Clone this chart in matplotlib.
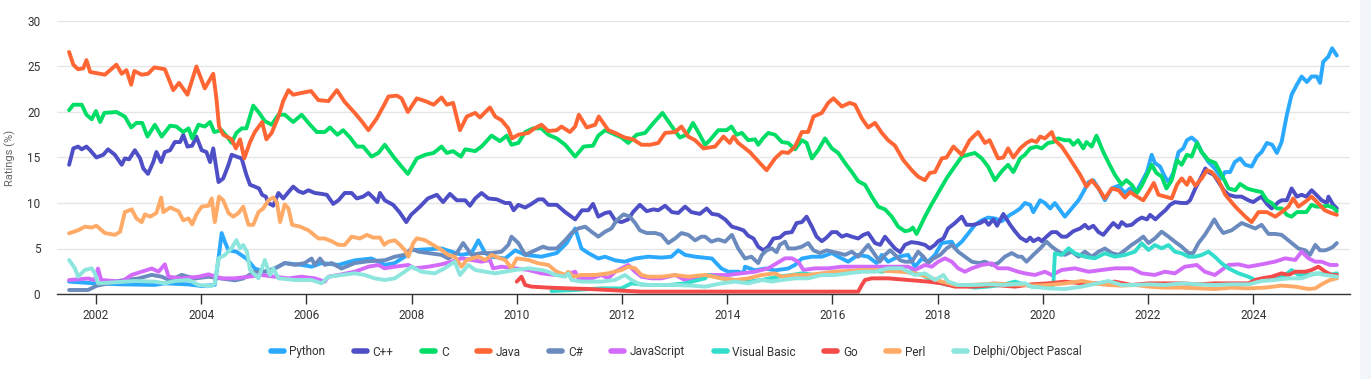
import matplotlib
matplotlib.use("Agg")
import matplotlib.pyplot as plt
from matplotlib.patches import Rectangle
from matplotlib.lines import Line2D

plt.rcParams['font.family'] = ['Roboto', 'DejaVu Sans']

# ---------------- data: (year, rating %) ----------------
python_pts = [(2001.49,1.36),(2001.98,1.17),(2002.49,1.06),(2003.12,1.0),(2003.31,1.17),(2003.75,1.06),(2004.01,0.88),(2004.26,1.0),(2004.33,3.9),(2004.39,6.7),(2004.45,5.75),(2004.52,4.8),(2004.67,4.65),(2004.86,3.9),(2005.02,2.8),(2005.21,2.45),(2005.40,2.8),(2005.59,3.4),(2005.91,3.2),(2006.10,3.0),(2006.29,3.4),(2006.61,3.2),(2006.92,3.7),(2007.24,3.9),(2007.49,3.2),(2007.68,3.4),(2007.87,4.1),(2007.99,4.8),(2008.25,4.9),(2008.57,5.0),(2008.76,4.65),(2008.95,4.3),(2009.14,4.5),(2009.27,5.9),(2009.40,4.5),(2009.52,4.1),(2009.78,3.9),(2009.97,4.8),(2010.16,4.3),(2010.47,4.1),(2010.76,4.5),(2010.95,5.6),(2011.11,7.2),(2011.17,6.1),(2011.23,5.0),(2011.36,4.5),(2011.55,3.9),(2011.68,4.1),(2011.87,3.7),(2012.05,3.55),(2012.25,3.9),(2012.50,4.1),(2012.75,4.0),(2012.94,4.1),(2013.07,4.8),(2013.20,4.3),(2013.39,4.1),(2013.71,3.9),(2013.89,2.8),(2014.02,2.45),(2014.21,2.45),(2014.31,2.3),(2014.34,3.0),(2014.53,2.6),(2014.72,2.8),(2014.91,2.6),(2015.16,2.8),(2015.29,3.2),(2015.42,3.9),(2015.61,4.1),(2015.80,4.1),(2015.99,4.5),(2016.11,4.1),(2016.30,3.55),(2016.49,4.3),(2016.68,4.1),(2016.84,3.4),(2016.94,4.3),(2017.06,3.55),(2017.25,4.1),(2017.44,4.3),(2017.57,3.0),(2017.70,3.9),(2017.82,3.55),(2017.95,4.3),(2018.08,5.6),(2018.27,5.75),(2018.33,5.1),(2018.46,5.75),(2018.59,6.7),(2018.71,7.6),(2018.84,8.1),(2018.96,8.4),(2019.09,8.3),(2019.22,8.0),(2019.38,8.7),(2019.47,9.0),(2019.57,9.4),(2019.66,10.0),(2019.76,9.8),(2019.82,9.0),(2019.95,10.3),(2020.04,10.0),(2020.14,9.4),(2020.23,10.0),(2020.33,9.2),(2020.42,8.5),(2020.55,9.4),(2020.68,10.3),(2020.77,11.2),(2020.87,12.3),(2020.96,12.5),(2021.06,11.6),(2021.18,10.3),(2021.31,11.6),(2021.44,11.9),(2021.56,11.1),(2021.66,11.6),(2021.75,10.9),(2021.88,12.3),(2021.98,13.4),(2022.07,15.3),(2022.13,14.4),(2022.23,14.0),(2022.32,12.9),(2022.39,12.3),(2022.48,13.3),(2022.58,15.6),(2022.67,16.0),(2022.74,16.9),(2022.83,17.2),(2022.93,16.7),(2023.02,15.6),(2023.15,14.5),(2023.27,13.8),(2023.40,12.7),(2023.46,13.4),(2023.56,13.4),(2023.65,14.5),(2023.75,14.9),(2023.85,14.2),(2023.97,14.0),(2024.07,15.1),(2024.16,15.6),(2024.26,16.6),(2024.36,16.4),(2024.45,15.5),(2024.54,16.7),(2024.64,19.7),(2024.73,21.9),(2024.83,23.0),(2024.92,23.9),(2025.02,23.3),(2025.11,23.9),(2025.21,23.9),(2025.27,23.2),(2025.33,25.5),(2025.43,26.1),(2025.50,27.0),(2025.59,26.2)]

cpp_pts = [(2001.49,14.2),(2001.57,16.0),(2001.66,16.2),(2001.73,15.9),(2001.82,16.2),(2001.89,15.8),(2002.01,15.0),(2002.14,15.3),(2002.23,15.9),(2002.36,15.3),(2002.49,14.2),(2002.55,14.9),(2002.63,14.8),(2002.74,15.8),(2002.84,14.9),(2002.90,13.8),(2002.99,13.2),(2003.09,14.5),(2003.15,15.6),(2003.24,14.5),(2003.31,15.6),(2003.41,15.8),(2003.50,16.7),(2003.60,16.7),(2003.66,17.5),(2003.74,16.2),(2003.83,16.3),(2003.91,17.3),(2004.01,15.8),(2004.10,15.6),(2004.17,14.5),(2004.23,16.0),(2004.33,12.3),(2004.42,12.7),(2004.52,14.2),(2004.58,15.3),(2004.67,15.1),(2004.77,14.9),(2004.86,13.1),(2004.93,12.0),(2005.02,11.8),(2005.10,11.6),(2005.16,10.9),(2005.23,10.7),(2005.28,10.0),(2005.37,9.7),(2005.47,11.1),(2005.56,10.5),(2005.66,11.2),(2005.75,11.8),(2005.85,11.3),(2005.94,11.1),(2006.04,11.4),(2006.16,11.1),(2006.29,11.0),(2006.39,10.9),(2006.51,9.9),(2006.61,10.3),(2006.73,11.1),(2006.86,11.1),(2006.96,10.5),(2007.08,10.7),(2007.18,11.1),(2007.27,10.6),(2007.35,10.1),(2007.40,11.1),(2007.49,10.3),(2007.65,9.8),(2007.77,9.0),(2007.90,7.9),(2007.99,8.7),(2008.16,9.6),(2008.31,10.5),(2008.48,10.9),(2008.60,10.1),(2008.73,11.0),(2008.86,10.3),(2009.02,10.3),(2009.11,9.7),(2009.21,10.5),(2009.33,11.1),(2009.46,10.5),(2009.62,10.4),(2009.78,10.0),(2009.87,10.0),(2009.94,9.2),(2010.03,9.8),(2010.16,9.5),(2010.28,9.9),(2010.41,10.4),(2010.50,10.4),(2010.60,9.8),(2010.76,9.8),(2010.92,9.0),(2011.11,8.2),(2011.24,9.2),(2011.36,9.2),(2011.45,9.9),(2011.55,8.5),(2011.68,8.9),(2011.77,9.0),(2011.87,8.1),(2011.99,7.9),(2012.12,8.2),(2012.21,9.0),(2012.34,9.8),(2012.47,9.1),(2012.60,9.3),(2012.69,9.2),(2012.82,9.7),(2012.95,9.0),(2013.07,8.9),(2013.20,9.6),(2013.32,9.0),(2013.48,8.8),(2013.61,9.4),(2013.71,8.8),(2013.83,8.7),(2013.96,8.2),(2014.09,7.4),(2014.21,7.2),(2014.31,7.0),(2014.40,6.4),(2014.50,6.1),(2014.59,5.2),(2014.69,4.8),(2014.78,5.2),(2014.88,6.1),(2015.00,6.2),(2015.10,6.7),(2015.23,6.8),(2015.32,7.8),(2015.42,7.9),(2015.51,8.5),(2015.61,7.4),(2015.70,6.3),(2015.80,5.8),(2015.89,6.2),(2015.99,6.8),(2016.08,6.8),(2016.18,6.3),(2016.27,6.5),(2016.37,6.3),(2016.49,6.1),(2016.59,6.5),(2016.68,6.7),(2016.81,5.6),(2016.91,5.4),(2017.00,6.3),(2017.10,5.6),(2017.19,5.0),(2017.29,4.6),(2017.38,5.4),(2017.50,5.7),(2017.63,5.6),(2017.76,5.4),(2017.85,5.0),(2017.95,5.4),(2018.01,5.8),(2018.11,6.1),(2018.20,7.2),(2018.33,7.8),(2018.46,8.5),(2018.55,7.6),(2018.68,7.6),(2018.81,7.8),(2018.90,8.1),(2018.97,7.6),(2019.06,8.2),(2019.13,7.5),(2019.25,8.8),(2019.38,7.6),(2019.47,6.9),(2019.57,6.2),(2019.69,5.8),(2019.76,6.2),(2019.82,5.8),(2019.92,6.1),(2019.98,5.8),(2020.07,6.3),(2020.17,6.8),(2020.26,6.8),(2020.36,6.3),(2020.45,6.3),(2020.58,6.9),(2020.71,7.2),(2020.80,7.6),(2020.87,7.2),(2020.96,7.5),(2021.06,6.8),(2021.15,6.5),(2021.25,7.2),(2021.34,7.8),(2021.44,7.3),(2021.50,7.9),(2021.59,7.5),(2021.69,7.6),(2021.79,8.1),(2021.88,8.4),(2021.98,8.2),(2022.04,8.7),(2022.14,8.2),(2022.23,8.7),(2022.33,9.2),(2022.42,9.8),(2022.51,10.1),(2022.64,10.0),(2022.74,10.0),(2022.80,10.3),(2022.90,11.6),(2023.00,12.7),(2023.09,13.8),(2023.15,13.4),(2023.25,13.1),(2023.34,12.3),(2023.44,11.4),(2023.53,10.9),(2023.66,10.7),(2023.78,10.7),(2023.91,10.3),(2024.00,10.1),(2024.10,10.5),(2024.16,10.7),(2024.26,9.9),(2024.35,9.4),(2024.48,10.1),(2024.54,10.3),(2024.64,10.3),(2024.73,11.6),(2024.83,10.7),(2024.92,10.9),(2025.01,10.7),(2025.11,11.4),(2025.20,10.9),(2025.30,10.3),(2025.40,10.0),(2025.43,10.7),(2025.52,9.8),(2025.59,9.4)]

c_pts = [(2001.49,20.2),(2001.57,20.8),(2001.73,20.8),(2001.82,19.7),(2001.92,19.2),(2002.00,20.1),(2002.08,18.9),(2002.16,19.9),(2002.39,20.0),(2002.55,19.5),(2002.67,18.3),(2002.77,18.8),(2002.88,18.8),(2002.98,17.3),(2003.12,18.6),(2003.25,17.3),(2003.41,18.5),(2003.53,18.4),(2003.66,17.8),(2003.76,18.2),(2003.83,17.1),(2003.95,18.6),(2004.07,18.4),(2004.17,18.9),(2004.25,17.8),(2004.39,18.0),(2004.52,17.1),(2004.58,16.6),(2004.67,17.7),(2004.77,18.2),(2004.86,18.2),(2004.99,20.7),(2005.09,20.0),(2005.21,19.0),(2005.34,18.6),(2005.47,19.7),(2005.59,19.7),(2005.75,18.9),(2005.91,19.7),(2006.07,18.6),(2006.20,17.8),(2006.35,17.8),(2006.45,18.3),(2006.59,17.5),(2006.70,18.0),(2006.83,17.2),(2006.96,16.2),(2007.08,16.2),(2007.24,15.1),(2007.37,15.5),(2007.49,16.4),(2007.68,14.9),(2007.81,14.0),(2007.93,13.2),(2008.10,14.9),(2008.26,15.3),(2008.42,15.5),(2008.57,16.2),(2008.67,15.5),(2008.79,15.7),(2008.94,15.1),(2009.02,15.9),(2009.21,15.7),(2009.33,16.2),(2009.52,17.4),(2009.68,16.8),(2009.81,17.4),(2009.90,16.4),(2010.03,16.6),(2010.16,17.8),(2010.31,18.2),(2010.47,18.2),(2010.60,17.5),(2010.76,17.1),(2010.92,16.4),(2011.11,15.1),(2011.27,16.2),(2011.45,16.3),(2011.55,17.4),(2011.68,18.0),(2011.80,17.7),(2011.99,17.2),(2012.12,16.6),(2012.28,17.5),(2012.44,17.7),(2012.60,18.8),(2012.77,19.9),(2012.95,18.4),(2013.10,17.2),(2013.23,17.5),(2013.35,18.8),(2013.45,17.8),(2013.58,16.4),(2013.67,16.9),(2013.83,18.0),(2013.99,18.0),(2014.08,18.4),(2014.18,17.5),(2014.28,17.7),(2014.40,16.9),(2014.53,17.0),(2014.59,16.4),(2014.68,17.1),(2014.78,17.7),(2014.91,17.5),(2015.04,16.7),(2015.16,16.6),(2015.29,15.9),(2015.42,16.9),(2015.51,16.6),(2015.61,14.9),(2015.73,15.8),(2015.86,17.1),(2015.99,16.0),(2016.11,15.5),(2016.24,14.4),(2016.37,13.4),(2016.49,12.4),(2016.62,12.0),(2016.75,10.7),(2016.87,9.6),(2017.00,9.3),(2017.13,8.5),(2017.25,7.4),(2017.38,6.9),(2017.47,7.0),(2017.53,7.3),(2017.60,6.6),(2017.76,8.5),(2017.88,9.8),(2018.04,11.4),(2018.17,12.7),(2018.30,13.8),(2018.46,15.1),(2018.58,15.3),(2018.71,15.5),(2018.84,14.9),(2018.96,14.0),(2019.09,12.5),(2019.22,13.5),(2019.34,14.2),(2019.44,13.4),(2019.57,14.9),(2019.66,15.3),(2019.76,16.0),(2019.88,16.2),(2019.98,16.0),(2020.10,16.6),(2020.20,16.7),(2020.29,17.1),(2020.42,16.9),(2020.51,16.9),(2020.58,16.4),(2020.67,16.9),(2020.77,16.0),(2020.83,16.7),(2020.93,16.2),(2021.02,17.4),(2021.15,15.6),(2021.27,14.2),(2021.37,13.1),(2021.50,12.0),(2021.59,12.5),(2021.69,12.0),(2021.79,11.1),(2021.88,11.9),(2021.98,13.1),(2022.07,14.2),(2022.16,13.3),(2022.26,12.9),(2022.35,11.6),(2022.45,12.5),(2022.55,14.7),(2022.64,14.2),(2022.74,15.3),(2022.83,15.1),(2022.93,16.6),(2023.02,15.6),(2023.15,14.7),(2023.28,14.4),(2023.40,13.1),(2023.53,11.6),(2023.66,11.4),(2023.75,12.1),(2023.88,11.6),(2024.00,11.4),(2024.16,11.2),(2024.26,10.3),(2024.35,10.0),(2024.45,9.4),(2024.54,9.4),(2024.64,8.7),(2024.73,8.5),(2024.83,9.0),(2024.92,9.0),(2025.01,9.0),(2025.11,9.8),(2025.20,9.6),(2025.30,9.6),(2025.42,9.7),(2025.52,9.5),(2025.59,9.1)]

java_pts = [(2001.49,26.6),(2001.57,25.2),(2001.66,24.7),(2001.76,24.8),(2001.82,25.7),(2001.89,24.4),(2002.17,24.1),(2002.39,25.2),(2002.49,24.2),(2002.58,24.6),(2002.67,23.0),(2002.73,24.5),(2002.87,24.1),(2002.99,24.2),(2003.11,24.9),(2003.31,24.7),(2003.47,22.4),(2003.58,23.2),(2003.74,21.9),(2003.91,25.0),(2004.07,22.6),(2004.23,24.2),(2004.29,21.5),(2004.34,18.4),(2004.42,17.5),(2004.58,17.0),(2004.66,16.0),(2004.74,17.0),(2004.82,14.9),(2004.93,16.7),(2005.02,17.8),(2005.16,18.9),(2005.24,17.0),(2005.34,17.7),(2005.47,19.5),(2005.56,21.2),(2005.66,22.4),(2005.75,21.9),(2005.91,22.1),(2006.09,22.3),(2006.23,21.3),(2006.42,21.2),(2006.58,22.4),(2006.73,21.1),(2006.92,19.9),(2007.05,19.0),(2007.18,18.0),(2007.34,19.3),(2007.49,20.9),(2007.56,21.7),(2007.72,21.8),(2007.81,21.5),(2007.93,20.0),(2008.10,21.5),(2008.26,21.2),(2008.42,20.8),(2008.57,21.6),(2008.67,20.8),(2008.79,21.0),(2008.92,18.0),(2009.05,19.5),(2009.21,19.9),(2009.30,19.4),(2009.49,20.5),(2009.59,19.5),(2009.71,19.1),(2009.84,18.2),(2009.91,17.1),(2010.03,17.5),(2010.22,17.7),(2010.31,18.1),(2010.47,18.6),(2010.60,17.9),(2010.76,18.0),(2010.85,18.4),(2011.01,17.8),(2011.11,18.4),(2011.18,19.7),(2011.33,18.3),(2011.49,18.6),(2011.56,19.5),(2011.74,18.0),(2011.87,17.7),(2012.05,17.2),(2012.21,17.0),(2012.37,16.4),(2012.54,16.4),(2012.69,16.6),(2012.82,17.7),(2013.01,17.8),(2013.13,18.4),(2013.26,17.3),(2013.39,16.9),(2013.55,16.0),(2013.77,16.2),(2013.93,17.3),(2014.05,16.6),(2014.12,17.3),(2014.21,16.6),(2014.43,15.6),(2014.62,14.4),(2014.75,13.6),(2014.91,14.9),(2015.04,15.6),(2015.16,15.5),(2015.29,16.2),(2015.42,17.8),(2015.54,17.8),(2015.64,19.5),(2015.80,19.9),(2015.92,21.0),(2016.02,21.5),(2016.18,20.6),(2016.33,21.0),(2016.43,20.8),(2016.56,19.3),(2016.68,18.3),(2016.81,18.8),(2016.94,17.7),(2017.06,16.9),(2017.19,16.3),(2017.35,14.7),(2017.51,13.6),(2017.63,12.9),(2017.76,12.5),(2017.85,13.3),(2017.95,13.4),(2018.08,14.9),(2018.17,15.0),(2018.30,16.2),(2018.46,15.3),(2018.61,16.9),(2018.77,17.8),(2018.90,16.6),(2018.99,16.9),(2019.15,14.9),(2019.25,15.0),(2019.34,16.0),(2019.44,15.0),(2019.57,16.0),(2019.69,16.6),(2019.79,16.9),(2019.88,16.7),(2019.95,17.3),(2020.04,17.1),(2020.17,17.8),(2020.23,16.9),(2020.36,16.2),(2020.51,14.9),(2020.71,13.1),(2020.83,11.8),(2020.93,12.5),(2021.06,11.6),(2021.18,10.5),(2021.31,11.6),(2021.44,11.4),(2021.56,10.6),(2021.66,11.2),(2021.79,10.7),(2021.91,10.3),(2022.01,11.2),(2022.11,12.2),(2022.20,10.9),(2022.33,10.7),(2022.45,10.5),(2022.55,12.0),(2022.64,12.7),(2022.74,12.0),(2022.80,12.8),(2022.90,11.9),(2023.02,12.7),(2023.12,13.6),(2023.21,13.4),(2023.34,12.5),(2023.47,10.9),(2023.66,9.6),(2023.85,8.5),(2023.97,7.9),(2024.10,9.0),(2024.26,9.0),(2024.42,8.5),(2024.54,9.0),(2024.67,9.6),(2024.76,10.5),(2024.86,9.6),(2024.98,10.1),(2025.11,10.7),(2025.23,10.0),(2025.36,9.2),(2025.48,8.9),(2025.59,8.7)]

csharp_pts = [(2001.49,0.44),(2001.85,0.44),(2002.01,0.9),(2002.23,1.17),(2002.49,1.5),(2002.80,1.7),(2003.06,2.1),(2003.25,1.9),(2003.41,1.5),(2003.63,2.1),(2003.88,1.7),(2004.14,1.9),(2004.39,1.7),(2004.64,1.5),(2004.80,1.7),(2005.02,2.45),(2005.21,2.45),(2005.40,2.8),(2005.59,3.4),(2005.78,3.2),(2005.97,3.4),(2006.10,3.9),(2006.16,3.2),(2006.26,3.9),(2006.35,3.2),(2006.48,3.4),(2006.67,2.8),(2006.92,3.4),(2007.18,3.6),(2007.49,3.7),(2007.68,4.1),(2007.87,4.3),(2008.00,5.0),(2008.13,4.65),(2008.32,4.5),(2008.57,4.3),(2008.70,3.9),(2008.86,4.5),(2008.98,5.6),(2009.14,4.3),(2009.33,4.5),(2009.52,4.5),(2009.71,4.65),(2009.84,5.4),(2009.90,6.3),(2010.03,5.6),(2010.16,4.3),(2010.35,4.8),(2010.50,5.2),(2010.60,5.0),(2010.76,5.0),(2010.92,5.9),(2011.04,6.7),(2011.17,7.2),(2011.30,7.4),(2011.42,6.85),(2011.55,6.3),(2011.68,6.85),(2011.80,7.2),(2011.90,8.1),(2012.03,8.75),(2012.15,8.5),(2012.25,7.8),(2012.34,7.0),(2012.47,6.7),(2012.63,6.7),(2012.75,6.5),(2012.88,5.6),(2013.01,6.1),(2013.13,6.7),(2013.26,6.5),(2013.39,5.9),(2013.51,6.3),(2013.58,6.3),(2013.70,5.75),(2013.83,6.0),(2013.96,5.75),(2014.09,6.5),(2014.21,5.0),(2014.34,3.9),(2014.46,4.1),(2014.59,3.4),(2014.66,4.3),(2014.75,4.8),(2014.85,5.0),(2014.94,4.6),(2015.00,5.4),(2015.10,5.75),(2015.16,5.0),(2015.29,5.0),(2015.42,5.2),(2015.54,5.6),(2015.64,4.8),(2015.76,4.5),(2015.89,4.8),(2015.99,4.65),(2016.11,4.5),(2016.24,4.3),(2016.37,4.65),(2016.49,4.1),(2016.68,5.4),(2016.81,4.3),(2016.90,3.55),(2017.00,4.3),(2017.10,4.8),(2017.19,4.3),(2017.29,3.7),(2017.38,3.55),(2017.51,3.55),(2017.63,4.65),(2017.73,4.1),(2017.82,3.4),(2017.92,3.9),(2018.05,4.3),(2018.17,5.0),(2018.27,5.4),(2018.39,4.65),(2018.52,4.1),(2018.65,3.55),(2018.79,3.4),(2018.90,3.55),(2019.03,3.2),(2019.15,3.4),(2019.28,4.1),(2019.41,4.5),(2019.53,4.1),(2019.60,4.1),(2019.69,3.55),(2019.82,4.3),(2019.95,5.0),(2020.07,5.75),(2020.17,5.2),(2020.30,4.65),(2020.42,4.3),(2020.55,4.65),(2020.68,4.1),(2020.80,4.65),(2020.93,4.1),(2021.06,4.65),(2021.18,5.0),(2021.31,4.5),(2021.44,4.3),(2021.56,4.8),(2021.69,5.4),(2021.82,5.9),(2021.91,6.3),(2022.01,5.6),(2022.13,6.1),(2022.26,6.85),(2022.39,6.3),(2022.51,5.75),(2022.64,5.2),(2022.77,4.5),(2022.86,4.5),(2022.96,5.6),(2023.08,6.5),(2023.18,7.4),(2023.26,8.2),(2023.34,7.4),(2023.43,6.7),(2023.59,7.0),(2023.78,7.8),(2023.91,7.5),(2024.04,7.2),(2024.16,7.6),(2024.29,6.6),(2024.42,6.6),(2024.54,6.5),(2024.70,5.75),(2024.86,5.0),(2024.99,4.8),(2025.08,4.3),(2025.18,5.4),(2025.27,4.8),(2025.37,4.8),(2025.46,5.0),(2025.52,5.2),(2025.59,5.6)]

js_pts = [(2001.49,1.54),(2001.85,1.7),(2001.98,1.54),(2002.04,2.8),(2002.10,1.54),(2002.49,1.36),(2002.68,2.1),(2002.87,2.45),(2003.06,2.8),(2003.19,2.45),(2003.31,3.26),(2003.38,1.9),(2003.63,1.72),(2003.95,1.9),(2004.14,2.16),(2004.39,1.72),(2004.64,1.72),(2004.90,1.9),(2005.15,2.09),(2005.40,1.9),(2005.66,1.72),(2005.91,1.9),(2006.16,1.72),(2006.35,1.36),(2006.42,1.9),(2006.61,2.09),(2006.92,2.45),(2007.18,3.0),(2007.37,3.19),(2007.49,2.82),(2007.68,3.0),(2007.94,3.19),(2008.06,2.82),(2008.32,3.0),(2008.57,3.26),(2008.76,3.55),(2008.95,3.92),(2009.14,3.74),(2009.33,3.55),(2009.49,3.74),(2009.55,2.82),(2009.71,3.0),(2009.97,2.82),(2010.22,2.64),(2010.47,2.27),(2010.73,2.09),(2010.92,2.09),(2011.11,2.45),(2011.17,1.72),(2011.42,1.72),(2011.61,2.09),(2011.74,1.72),(2011.87,2.45),(2012.12,3.19),(2012.25,2.45),(2012.37,1.90),(2012.56,1.72),(2012.75,1.72),(2013.01,2.09),(2013.20,1.54),(2013.39,1.72),(2013.58,1.9),(2013.64,2.09),(2014.02,2.09),(2014.27,2.27),(2014.53,2.45),(2014.78,2.82),(2014.94,3.37),(2015.10,3.92),(2015.23,3.92),(2015.35,3.55),(2015.45,2.64),(2015.67,2.82),(2015.92,2.82),(2016.18,3.0),(2016.68,3.0),(2017.19,3.0),(2017.44,3.0),(2017.57,2.64),(2017.76,3.19),(2017.89,3.0),(2018.01,3.55),(2018.14,3.92),(2018.27,3.55),(2018.39,2.82),(2018.52,2.45),(2018.65,2.82),(2018.84,3.19),(2019.03,3.37),(2019.15,2.82),(2019.34,2.82),(2019.53,2.45),(2019.66,2.27),(2019.85,2.09),(2020.04,2.45),(2020.17,2.09),(2020.36,2.64),(2020.61,2.82),(2020.87,2.45),(2021.12,2.64),(2021.37,2.82),(2021.69,2.82),(2021.88,2.27),(2022.13,2.09),(2022.32,2.45),(2022.51,2.27),(2022.70,3.0),(2022.93,3.19),(2023.08,2.45),(2023.27,2.09),(2023.53,3.19),(2023.72,3.26),(2023.91,3.0),(2024.16,3.26),(2024.41,3.55),(2024.61,3.92),(2024.80,3.74),(2024.92,4.65),(2025.05,3.92),(2025.18,3.55),(2025.30,3.55),(2025.46,3.19),(2025.59,3.19)]

vb_pts = [(2010.66,0.33),(2011.11,0.44),(2011.61,0.62),(2011.99,0.62),(2012.18,1.17),(2012.50,0.99),(2012.88,0.99),(2013.20,1.17),(2013.58,1.72),(2013.64,2.09),(2013.89,1.72),(2014.15,1.54),(2014.40,1.36),(2014.66,1.54),(2014.97,1.9),(2015.23,2.09),(2015.42,2.27),(2015.67,2.09),(2015.92,2.09),(2016.18,2.27),(2016.43,2.45),(2016.68,2.64),(2016.94,2.45),(2017.19,2.82),(2017.44,2.45),(2017.70,2.09),(2017.95,1.36),(2018.20,0.99),(2018.46,0.99),(2018.71,0.70),(2018.96,0.81),(2019.22,0.99),(2019.47,1.36),(2019.79,0.81),(2020.11,0.81),(2020.20,1.0),(2020.23,4.47),(2020.36,4.29),(2020.49,5.02),(2020.61,4.47),(2020.80,4.10),(2020.99,3.92),(2021.18,4.47),(2021.37,4.10),(2021.56,4.29),(2021.75,4.65),(2021.88,5.57),(2022.01,4.84),(2022.13,5.38),(2022.26,5.02),(2022.39,5.38),(2022.51,4.65),(2022.64,4.47),(2022.77,4.10),(2022.89,4.10),(2023.02,4.29),(2023.15,4.65),(2023.27,4.10),(2023.40,3.37),(2023.53,2.82),(2023.72,2.27),(2023.91,1.9),(2024.04,1.54),(2024.23,1.54),(2024.41,1.72),(2024.61,2.09),(2024.73,2.64),(2024.86,2.09),(2025.05,2.09),(2025.24,2.27),(2025.43,2.09),(2025.59,2.27)]

go_pts = [(2010.00,1.36),(2010.09,1.9),(2010.16,0.99),(2010.28,0.81),(2010.60,0.70),(2010.98,0.62),(2011.36,0.55),(2011.74,0.44),(2012.37,0.26),(2013.01,0.26),(2013.58,0.26),(2014.02,0.26),(2015.29,0.26),(2016.49,0.26),(2016.56,0.99),(2016.62,1.54),(2016.75,1.72),(2017.06,1.72),(2017.44,1.54),(2017.82,1.36),(2018.08,1.17),(2018.33,0.81),(2018.71,0.81),(2019.09,0.99),(2019.47,0.81),(2019.79,1.06),(2020.11,1.17),(2020.42,1.36),(2020.74,1.17),(2021.06,1.17),(2021.37,1.36),(2021.69,0.99),(2022.01,1.17),(2022.32,1.17),(2022.64,1.17),(2022.96,1.06),(2023.27,1.17),(2023.59,1.17),(2023.91,1.17),(2024.04,1.54),(2024.16,1.72),(2024.35,1.9),(2024.54,2.27),(2024.67,2.09),(2024.80,2.45),(2024.99,2.45),(2025.11,2.64),(2025.24,3.0),(2025.37,2.45),(2025.49,2.09),(2025.59,2.09)]

perl_pts = [(2001.49,6.67),(2001.66,7.0),(2001.79,7.4),(2001.92,7.3),(2002.01,7.5),(2002.17,6.7),(2002.36,6.5),(2002.46,6.85),(2002.55,9.0),(2002.68,9.3),(2002.77,8.3),(2002.87,7.9),(2002.93,8.75),(2003.03,8.5),(2003.15,8.9),(2003.24,10.6),(2003.28,9.0),(2003.41,9.5),(2003.57,9.1),(2003.66,8.1),(2003.76,8.3),(2003.83,7.65),(2003.91,8.75),(2004.01,9.6),(2004.14,9.7),(2004.20,10.5),(2004.26,7.9),(2004.34,10.7),(2004.42,10.3),(2004.52,8.9),(2004.61,8.5),(2004.71,8.9),(2004.80,9.6),(2004.90,7.6),(2004.99,7.6),(2005.09,9.0),(2005.18,9.4),(2005.28,10.3),(2005.37,10.6),(2005.44,10.1),(2005.50,7.9),(2005.59,9.85),(2005.66,9.4),(2005.73,7.6),(2005.88,7.4),(2006.04,7.0),(2006.23,6.1),(2006.35,6.1),(2006.48,5.8),(2006.61,5.4),(2006.73,5.4),(2006.86,6.3),(2007.02,6.1),(2007.15,6.5),(2007.27,6.2),(2007.40,6.2),(2007.48,5.4),(2007.56,5.75),(2007.68,5.9),(2007.78,5.4),(2007.87,4.84),(2007.94,4.1),(2008.03,5.57),(2008.10,6.12),(2008.25,5.93),(2008.41,5.38),(2008.57,4.84),(2008.70,4.29),(2008.82,4.1),(2008.95,3.0),(2009.05,3.74),(2009.27,4.1),(2009.40,3.74),(2009.52,4.29),(2009.68,3.92),(2009.78,3.74),(2009.90,2.82),(2010.00,3.92),(2010.22,3.74),(2010.41,3.37),(2010.60,3.19),(2010.76,2.45),(2010.92,2.09),(2010.98,2.45),(2011.08,1.9),(2011.23,2.09),(2011.49,2.09),(2011.74,2.27),(2011.99,2.64),(2012.12,3.0),(2012.25,2.82),(2012.37,2.09),(2012.50,1.9),(2012.75,1.9),(2013.01,2.09),(2013.26,1.9),(2013.58,2.09),(2013.89,1.72),(2014.15,1.54),(2014.40,1.72),(2014.66,2.09),(2014.91,2.27),(2015.04,1.9),(2015.29,2.09),(2015.54,2.09),(2015.80,2.27),(2016.05,2.45),(2016.30,2.53),(2016.56,2.64),(2016.81,2.64),(2017.06,2.53),(2017.32,2.45),(2017.57,2.27),(2017.82,1.9),(2018.08,1.36),(2018.33,0.99),(2018.58,0.99),(2018.84,1.06),(2019.09,1.17),(2019.34,1.06),(2019.66,0.99),(2019.79,0.92),(2020.11,0.99),(2020.42,1.17),(2020.74,1.43),(2020.99,1.17),(2021.25,0.99),(2021.50,0.92),(2021.75,0.99),(2022.01,0.81),(2022.32,0.70),(2022.64,0.70),(2022.96,0.62),(2023.27,0.55),(2023.59,0.70),(2023.91,0.62),(2024.23,0.70),(2024.54,0.92),(2024.80,0.81),(2025.05,0.55),(2025.18,0.62),(2025.30,1.06),(2025.46,1.54),(2025.59,1.72)]

delphi_pts = [(2001.49,3.74),(2001.60,2.82),(2001.66,1.9),(2001.79,2.64),(2001.92,2.82),(2001.98,2.27),(2002.04,1.17),(2002.36,1.28),(2002.74,1.43),(2003.12,1.36),(2003.31,1.17),(2003.50,1.43),(2003.76,1.54),(2003.95,0.99),(2004.20,0.88),(2004.26,1.17),(2004.33,3.92),(2004.45,4.29),(2004.58,5.02),(2004.67,5.93),(2004.74,5.02),(2004.80,5.38),(2004.87,4.65),(2004.93,2.64),(2005.09,1.72),(2005.21,3.74),(2005.31,2.09),(2005.37,2.82),(2005.47,1.72),(2005.78,1.54),(2006.10,1.54),(2006.29,1.17),(2006.42,1.9),(2006.67,2.09),(2006.92,2.27),(2007.11,2.09),(2007.30,1.72),(2007.49,1.54),(2007.68,1.72),(2007.87,2.45),(2008.00,3.0),(2008.19,2.45),(2008.44,2.27),(2008.63,2.82),(2008.82,3.55),(2008.92,2.09),(2009.08,3.19),(2009.21,2.64),(2009.40,2.45),(2009.59,2.27),(2009.78,2.45),(2009.97,2.64),(2010.22,2.82),(2010.47,2.64),(2010.60,2.45),(2010.73,2.09),(2010.92,1.9),(2010.98,2.27),(2011.04,1.54),(2011.23,1.36),(2011.61,1.36),(2011.87,1.54),(2012.06,2.09),(2012.18,1.54),(2012.37,0.99),(2012.69,0.99),(2013.01,0.99),(2013.33,0.92),(2013.58,0.81),(2013.89,1.17),(2014.15,1.36),(2014.40,1.17),(2014.66,1.54),(2014.85,1.36),(2015.04,1.54),(2015.29,1.72),(2015.54,1.72),(2015.80,2.09),(2016.05,2.09),(2016.30,2.27),(2016.56,2.45),(2016.81,2.45),(2017.06,2.82),(2017.32,2.82),(2017.44,2.45),(2017.57,2.09),(2017.76,2.27),(2017.95,1.54),(2018.11,2.09),(2018.20,1.36),(2018.39,0.99),(2018.65,0.99),(2018.96,1.06),(2019.28,0.99),(2019.66,1.17),(2019.79,0.81),(2020.11,0.62),(2020.42,0.55),(2020.74,0.81),(2021.25,1.43),(2021.50,0.99),(2021.75,0.99),(2022.01,1.06),(2022.32,0.99),(2022.64,1.17),(2022.96,1.06),(2023.27,0.99),(2023.59,1.06),(2023.91,1.06),(2024.16,1.43),(2024.41,1.54),(2024.67,1.72),(2024.92,1.72),(2025.18,2.27),(2025.37,2.09),(2025.59,1.9)]

series_names = ["Python", "C++", "C", "Java", "C#", "JavaScript",
                "Visual Basic", "Go", "Perl", "Delphi/Object Pascal"]
series_data = [python_pts, cpp_pts, c_pts, java_pts, csharp_pts, js_pts,
               vb_pts, go_pts, perl_pts, delphi_pts]
series_colors = ["#2BA9FF", "#4E4EC6", "#00DD66", "#FF6633", "#6B8BBE",
                 "#D36BFA", "#33DDCC", "#F44A4A", "#FFAA66", "#8CE6DE"]
year_ticks = list(range(2002, 2025, 2))
rating_ticks = [0, 5, 10, 15, 20, 25, 30]

# ---------------- figure ----------------
W, H = 1371, 379
fig = plt.figure(figsize=(W / 100, H / 100), dpi=100)
fig.patch.set_facecolor("white")
fig.add_artist(Rectangle((1360 / W, 0), 11 / W, 1, transform=fig.transFigure,
                         facecolor="#F2F6FA", edgecolor="none", zorder=0))

ax = fig.add_axes([57 / W, 1 - 294 / H, (1350 - 57) / W, (294 - 21) / H])
ax.set_facecolor("none")

for i, (name, pts, col) in enumerate(zip(series_names, series_data, series_colors)):
    xs = [p[0] for p in pts]
    ys = [p[1] for p in pts]
    ax.plot(xs, ys, color=col, lw=2.8, solid_joinstyle="round",
            solid_capstyle="round", zorder=3 + i, label=name)

ax.set_xlim(2001.26, 2025.84)
ax.set_ylim(0, 30)
ax.set_yticks(rating_ticks)
ax.set_xticks(year_ticks)
ax.set_xticklabels([str(y) for y in year_ticks])
ax.yaxis.grid(True, color="#E6E6E6", lw=1)
ax.set_axisbelow(True)
for s in ("top", "right", "left"):
    ax.spines[s].set_visible(False)
ax.spines["bottom"].set_color("#333333")
ax.spines["bottom"].set_linewidth(1.0)
ax.spines["bottom"].set_zorder(20)
ax.tick_params(axis="x", direction="out", length=7, width=1, color="#333333",
               labelsize=8.5, labelcolor="#333333", pad=4)
ax.tick_params(axis="y", length=0, labelsize=8.5, labelcolor="#333333", pad=12)
ax.set_ylabel("Ratings (%)", fontsize=8, color="#666666", labelpad=8)

handles = [Line2D([0], [0], color=c, lw=4, solid_capstyle="round")
           for c in series_colors]
fig.legend(handles, series_names, loc="center", ncol=10,
           bbox_to_anchor=(676 / W, 1 - 352 / H), frameon=False,
           fontsize=8.5, labelcolor="#333333", handlelength=1.1,
           handletextpad=0.5, columnspacing=2.4)

fig.savefig("out.png", dpi=100)
